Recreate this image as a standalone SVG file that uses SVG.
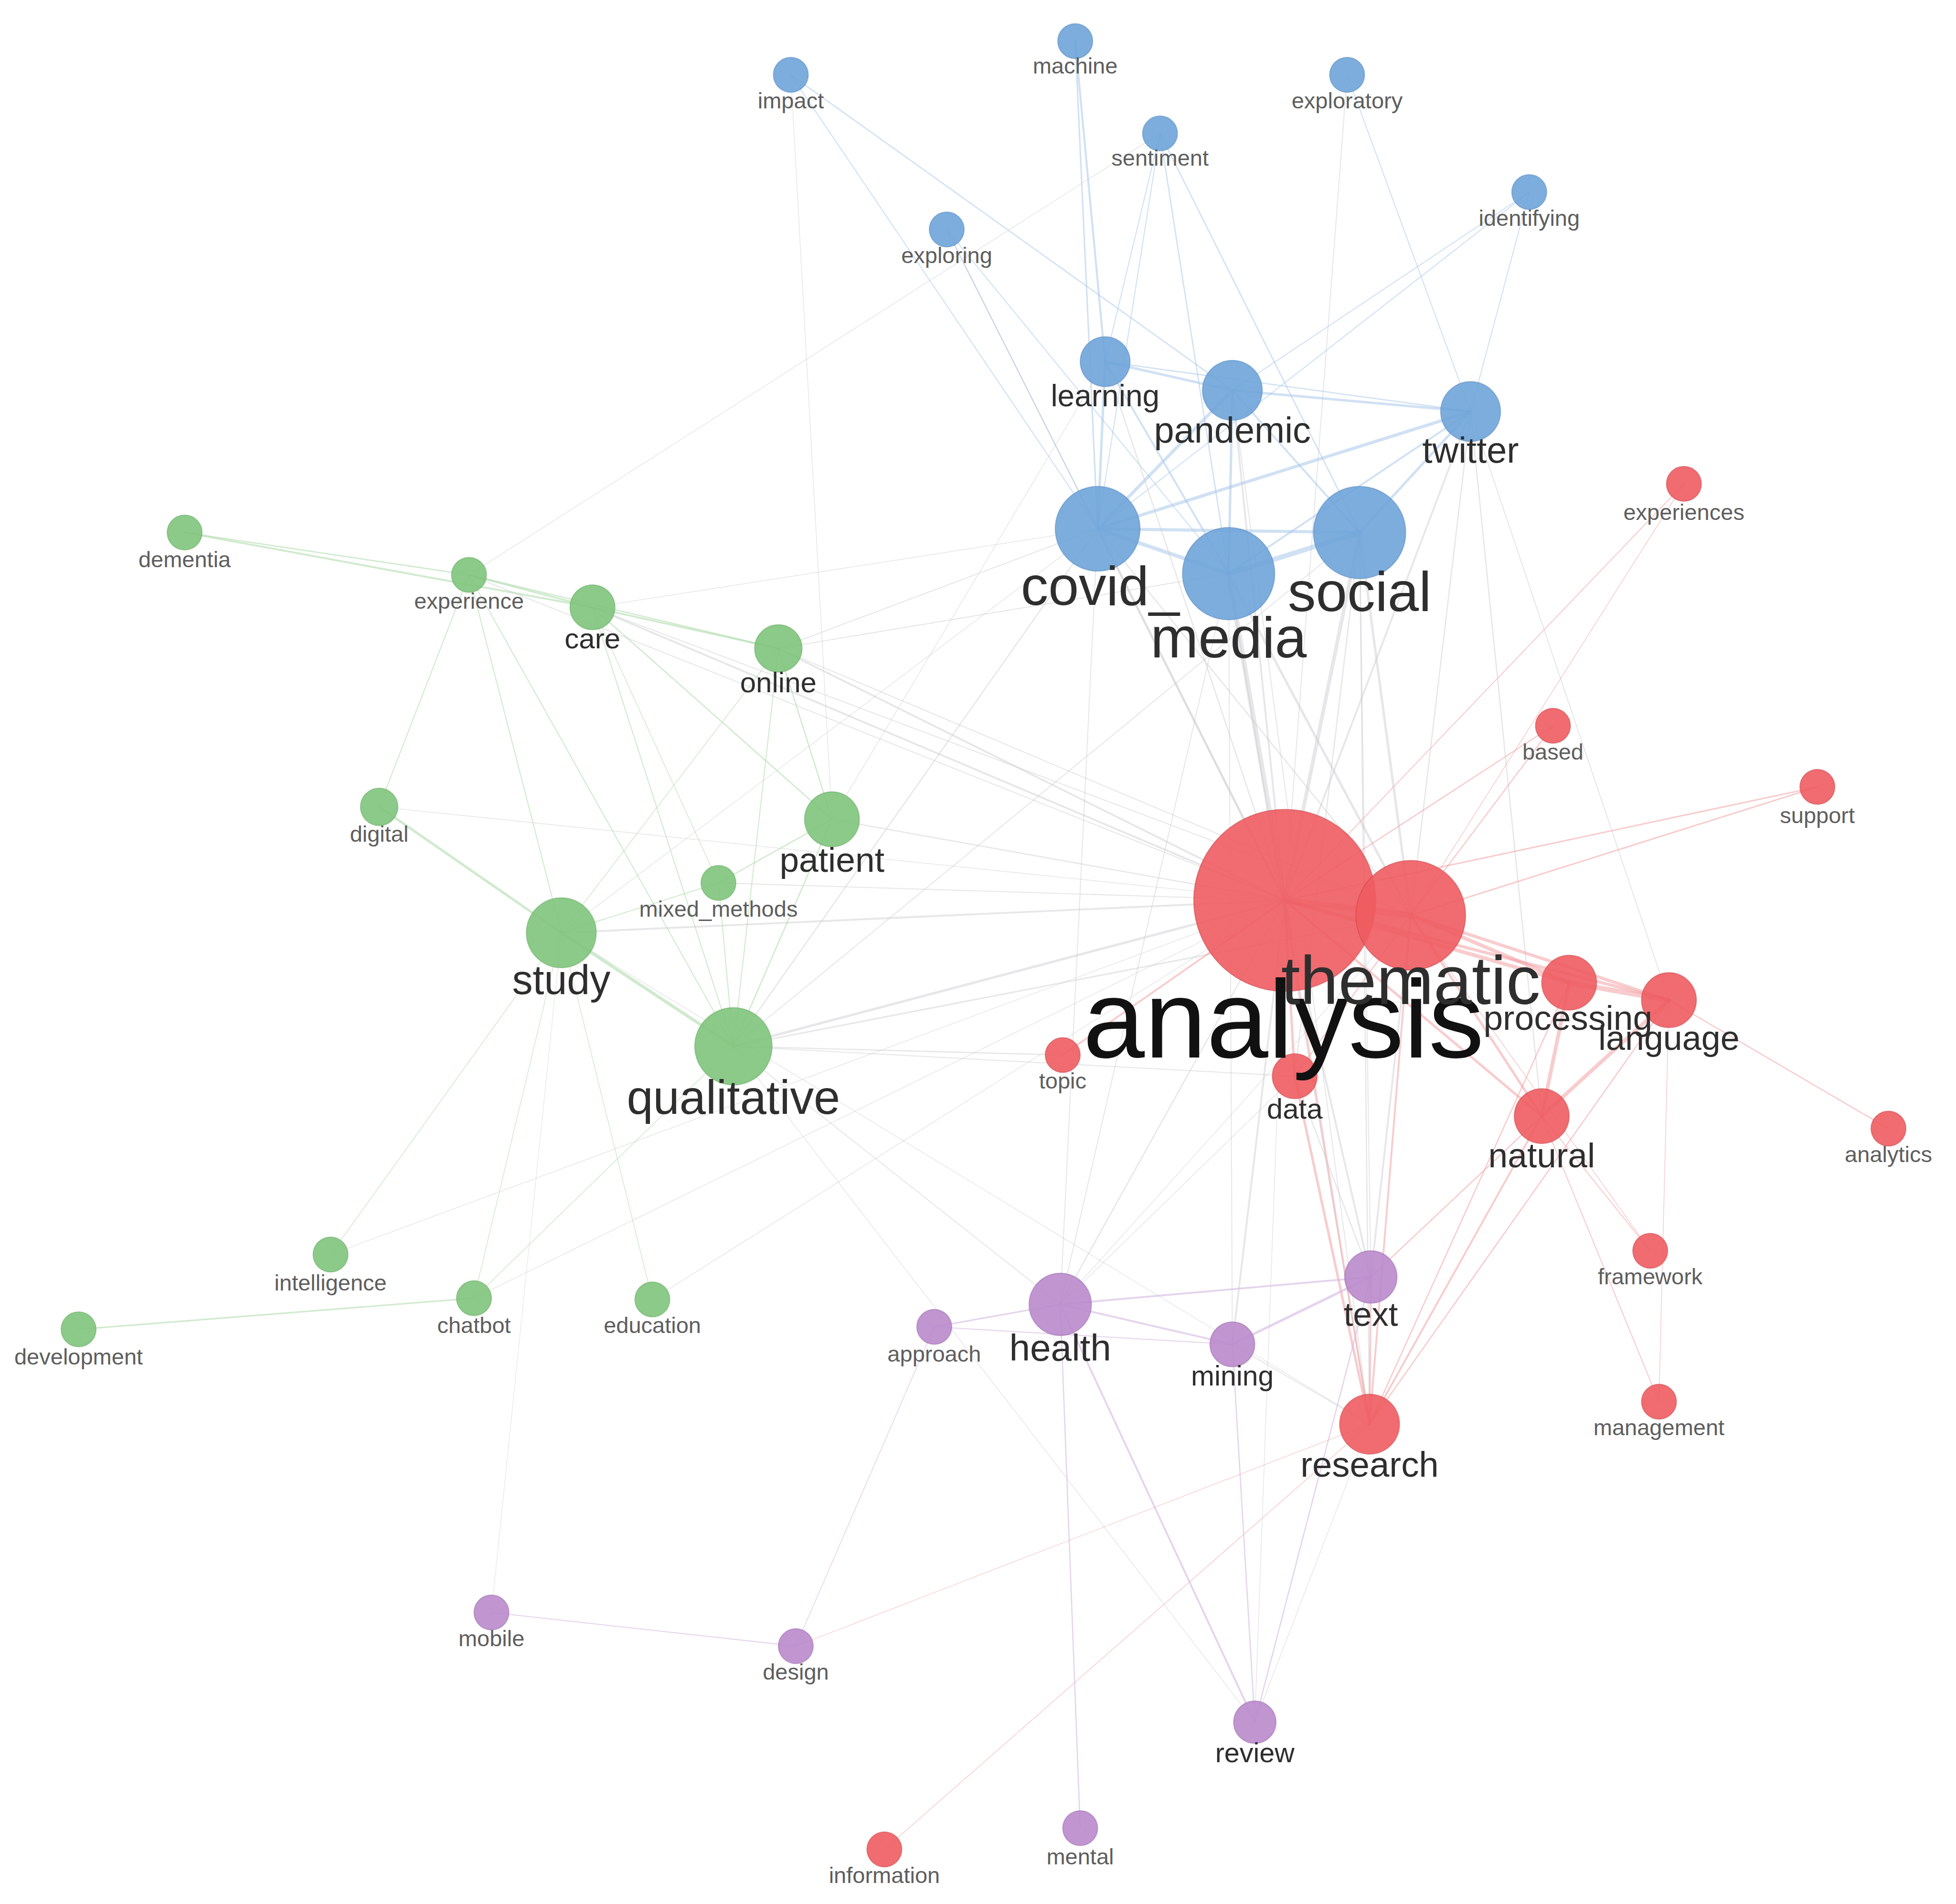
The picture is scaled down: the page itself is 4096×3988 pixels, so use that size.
<svg xmlns="http://www.w3.org/2000/svg" width="4096" height="3988" viewBox="0 0 4096 3988">
<style>
.e{fill:none;stroke-linecap:round}
.eb{stroke:#aac8ea;stroke-opacity:.55}
.eg{stroke:#a9d8a6;stroke-opacity:.55}
.er{stroke:#f29a9d;stroke-opacity:.5}
.ep{stroke:#d4b7e1;stroke-opacity:.6}
.ex{stroke:#c9c9cf;stroke-opacity:.45}
circle{fill-opacity:.9;stroke-width:.8;stroke-opacity:.5}
.b{fill:#6ea4d9;stroke:#4f86bd}
.g{fill:#80c47c;stroke:#5ea75a}
.r{fill:#ee5c61;stroke:#c94045}
.p{fill:#b98acb;stroke:#9a68ad}
text{font-family:"Liberation Sans",Arial,sans-serif;text-anchor:middle}
.s{font-size:18px;fill:#5e5e5e}
.m{fill:#2e2e2e}
</style>
<rect width="4096" height="3988" fill="#ffffff"/>
<g transform="scale(2.612)">
<g id="connectors" class="e">
<!-- blue -->
<line class="eb" x1="862" y1="33" x2="886" y2="290" stroke-width="1.6"/>
<line class="eb" x1="862" y1="33" x2="880" y2="424" stroke-width="1.2"/>
<line class="eb" x1="634" y1="60" x2="988" y2="313" stroke-width="1"/>
<line class="eb" x1="634" y1="60" x2="880" y2="424" stroke-width="0.8"/>
<line class="ex" x1="634" y1="60" x2="667" y2="657" stroke-width="0.6"/>
<line class="eb" x1="759" y1="184" x2="880" y2="424" stroke-width="1"/>
<line class="eb" x1="759" y1="184" x2="985" y2="460" stroke-width="0.8"/>
<line class="ex" x1="759" y1="184" x2="1030" y2="722" stroke-width="0.8"/>
<line class="eb" x1="930" y1="107" x2="880" y2="424" stroke-width="0.8"/>
<line class="eb" x1="930" y1="107" x2="985" y2="460" stroke-width="1"/>
<line class="eb" x1="930" y1="107" x2="1090" y2="427" stroke-width="1"/>
<line class="eb" x1="930" y1="107" x2="886" y2="290" stroke-width="0.8"/>
<line class="ex" x1="930" y1="107" x2="376" y2="461" stroke-width="0.6"/>
<line class="ex" x1="1080" y1="60" x2="1030" y2="722" stroke-width="0.8"/>
<line class="eb" x1="1080" y1="60" x2="1179" y2="330" stroke-width="0.8"/>
<line class="eb" x1="1226" y1="154" x2="988" y2="313" stroke-width="0.8"/>
<line class="eb" x1="1226" y1="154" x2="880" y2="424" stroke-width="0.8"/>
<line class="eb" x1="1226" y1="154" x2="1179" y2="330" stroke-width="0.8"/>
<line class="eb" x1="886" y1="290" x2="988" y2="313" stroke-width="2"/>
<line class="eb" x1="886" y1="290" x2="880" y2="424" stroke-width="2"/>
<line class="eb" x1="886" y1="290" x2="985" y2="460" stroke-width="1.5"/>
<line class="eb" x1="886" y1="290" x2="1179" y2="330" stroke-width="1"/>
<line class="eb" x1="988" y1="313" x2="1179" y2="330" stroke-width="2"/>
<line class="eb" x1="988" y1="313" x2="880" y2="424" stroke-width="2.5"/>
<line class="eb" x1="988" y1="313" x2="985" y2="460" stroke-width="2"/>
<line class="eb" x1="988" y1="313" x2="1090" y2="427" stroke-width="1.5"/>
<line class="eb" x1="1179" y1="330" x2="880" y2="424" stroke-width="2.5"/>
<line class="eb" x1="1179" y1="330" x2="1090" y2="427" stroke-width="2"/>
<line class="eb" x1="1179" y1="330" x2="985" y2="460" stroke-width="1.5"/>
<line class="eb" x1="880" y1="424" x2="985" y2="460" stroke-width="3"/>
<line class="eb" x1="880" y1="424" x2="1090" y2="427" stroke-width="2.5"/>
<line class="eb" x1="985" y1="460" x2="1090" y2="427" stroke-width="4"/>
<!-- blue-red cross -->
<line class="ex" x1="880" y1="424" x2="1030" y2="722" stroke-width="2"/>
<line class="ex" x1="985" y1="460" x2="1030" y2="722" stroke-width="4"/>
<line class="ex" x1="1090" y1="427" x2="1030" y2="722" stroke-width="3"/>
<line class="ex" x1="1179" y1="330" x2="1030" y2="722" stroke-width="1.5"/>
<line class="ex" x1="988" y1="313" x2="1030" y2="722" stroke-width="1.5"/>
<line class="ex" x1="886" y1="290" x2="1030" y2="722" stroke-width="1"/>
<line class="ex" x1="1090" y1="427" x2="1131" y2="734" stroke-width="2"/>
<line class="ex" x1="985" y1="460" x2="1131" y2="734" stroke-width="2"/>
<line class="ex" x1="1179" y1="330" x2="1131" y2="734" stroke-width="1"/>
<line class="ex" x1="880" y1="424" x2="1131" y2="734" stroke-width="1"/>
<line class="ex" x1="1090" y1="427" x2="1098" y2="1142" stroke-width="1"/>
<line class="ex" x1="985" y1="460" x2="1098" y2="1142" stroke-width="1"/>
<line class="ex" x1="1179" y1="330" x2="1236" y2="895" stroke-width="1"/>
<line class="ex" x1="880" y1="424" x2="588" y2="839" stroke-width="1"/>
<line class="ex" x1="1090" y1="427" x2="588" y2="839" stroke-width="0.8"/>
<line class="ex" x1="985" y1="460" x2="850" y2="1046" stroke-width="0.8"/>
<line class="ex" x1="880" y1="424" x2="850" y2="1046" stroke-width="0.8"/>
<line class="ex" x1="1090" y1="427" x2="1038" y2="863" stroke-width="1"/>
<line class="ex" x1="988" y1="313" x2="1098" y2="1142" stroke-width="0.8"/>
<line class="ex" x1="1179" y1="330" x2="1338" y2="802" stroke-width="0.8"/>
<line class="ex" x1="880" y1="424" x2="624" y2="520" stroke-width="0.8"/>
<line class="ex" x1="880" y1="424" x2="475" y2="487" stroke-width="0.6"/>
<line class="ex" x1="985" y1="460" x2="624" y2="520" stroke-width="0.8"/>
<line class="ex" x1="880" y1="424" x2="450" y2="748" stroke-width="0.6"/>
<line class="ex" x1="886" y1="290" x2="667" y2="657" stroke-width="0.6"/>
<line class="ex" x1="985" y1="460" x2="988" y2="1078" stroke-width="0.8"/>
<line class="ex" x1="1090" y1="427" x2="1099" y2="1024" stroke-width="0.8"/>
<!-- green -->
<line class="eg" x1="148" y1="427" x2="475" y2="487" stroke-width="1.5"/>
<line class="eg" x1="148" y1="427" x2="376" y2="461" stroke-width="1"/>
<line class="eg" x1="376" y1="461" x2="475" y2="487" stroke-width="1.5"/>
<line class="eg" x1="475" y1="487" x2="624" y2="520" stroke-width="1.5"/>
<line class="eg" x1="376" y1="461" x2="624" y2="520" stroke-width="1"/>
<line class="eg" x1="304" y1="647" x2="450" y2="748" stroke-width="2"/>
<line class="eg" x1="450" y1="748" x2="588" y2="839" stroke-width="2.5"/>
<line class="eg" x1="376" y1="461" x2="450" y2="748" stroke-width="0.8"/>
<line class="eg" x1="376" y1="461" x2="588" y2="839" stroke-width="0.8"/>
<line class="eg" x1="376" y1="461" x2="304" y2="647" stroke-width="0.8"/>
<line class="eg" x1="475" y1="487" x2="667" y2="657" stroke-width="1"/>
<line class="eg" x1="624" y1="520" x2="667" y2="657" stroke-width="1"/>
<line class="eg" x1="624" y1="520" x2="588" y2="839" stroke-width="0.8"/>
<line class="eg" x1="475" y1="487" x2="588" y2="839" stroke-width="0.8"/>
<line class="eg" x1="667" y1="657" x2="576" y2="708" stroke-width="1"/>
<line class="eg" x1="576" y1="708" x2="588" y2="839" stroke-width="0.8"/>
<line class="eg" x1="450" y1="748" x2="576" y2="708" stroke-width="0.8"/>
<line class="eg" x1="475" y1="487" x2="576" y2="708" stroke-width="0.6"/>
<line class="eg" x1="667" y1="657" x2="588" y2="839" stroke-width="1"/>
<line class="eg" x1="624" y1="520" x2="450" y2="748" stroke-width="0.6"/>
<line class="eg" x1="380" y1="1041" x2="63" y2="1066" stroke-width="1.2"/>
<line class="eg" x1="380" y1="1041" x2="450" y2="748" stroke-width="0.6"/>
<line class="eg" x1="380" y1="1041" x2="588" y2="839" stroke-width="0.6"/>
<line class="eg" x1="523" y1="1042" x2="450" y2="748" stroke-width="0.6"/>
<line class="eg" x1="265" y1="1006" x2="450" y2="748" stroke-width="0.6"/>
<line class="ex" x1="394" y1="1293" x2="450" y2="748" stroke-width="0.5"/>
<!-- green-red cross -->
<line class="ex" x1="475" y1="487" x2="1030" y2="722" stroke-width="1.5"/>
<line class="ex" x1="624" y1="520" x2="1030" y2="722" stroke-width="1.5"/>
<line class="ex" x1="667" y1="657" x2="1030" y2="722" stroke-width="1"/>
<line class="ex" x1="588" y1="839" x2="1030" y2="722" stroke-width="2"/>
<line class="ex" x1="450" y1="748" x2="1030" y2="722" stroke-width="1.5"/>
<line class="ex" x1="588" y1="839" x2="1131" y2="734" stroke-width="1.2"/>
<line class="ex" x1="588" y1="839" x2="852" y2="846" stroke-width="1"/>
<line class="ex" x1="588" y1="839" x2="1038" y2="863" stroke-width="0.8"/>
<line class="ex" x1="304" y1="647" x2="1030" y2="722" stroke-width="0.6"/>
<line class="ex" x1="376" y1="461" x2="1030" y2="722" stroke-width="0.8"/>
<line class="ex" x1="265" y1="1006" x2="1030" y2="722" stroke-width="0.6"/>
<line class="ex" x1="380" y1="1041" x2="1030" y2="722" stroke-width="0.6"/>
<line class="ex" x1="523" y1="1042" x2="1030" y2="722" stroke-width="0.6"/>
<line class="ex" x1="576" y1="708" x2="1030" y2="722" stroke-width="0.8"/>
<line class="ex" x1="588" y1="839" x2="850" y2="1046" stroke-width="0.8"/>
<line class="ex" x1="588" y1="839" x2="1006" y2="1381" stroke-width="0.6"/>
<line class="ex" x1="450" y1="748" x2="1098" y2="1142" stroke-width="0.6"/>
<line class="ex" x1="624" y1="520" x2="1131" y2="734" stroke-width="0.8"/>
<line class="ex" x1="475" y1="487" x2="1131" y2="734" stroke-width="0.8"/>
<!-- red -->
<line class="er" x1="1030" y1="722" x2="1131" y2="734" stroke-width="5"/>
<line class="er" x1="1030" y1="722" x2="1258" y2="788" stroke-width="3"/>
<line class="er" x1="1131" y1="734" x2="1258" y2="788" stroke-width="3"/>
<line class="er" x1="1030" y1="722" x2="1338" y2="802" stroke-width="2.5"/>
<line class="er" x1="1131" y1="734" x2="1338" y2="802" stroke-width="2.5"/>
<line class="er" x1="1258" y1="788" x2="1338" y2="802" stroke-width="4"/>
<line class="er" x1="1338" y1="802" x2="1236" y2="895" stroke-width="3"/>
<line class="er" x1="1258" y1="788" x2="1236" y2="895" stroke-width="3"/>
<line class="er" x1="1131" y1="734" x2="1236" y2="895" stroke-width="2"/>
<line class="er" x1="1030" y1="722" x2="1236" y2="895" stroke-width="2"/>
<line class="er" x1="1236" y1="895" x2="1098" y2="1142" stroke-width="1.5"/>
<line class="er" x1="1338" y1="802" x2="1098" y2="1142" stroke-width="1"/>
<line class="er" x1="1038" y1="863" x2="1098" y2="1142" stroke-width="2"/>
<line class="er" x1="1131" y1="734" x2="1098" y2="1142" stroke-width="1.5"/>
<line class="er" x1="1030" y1="722" x2="1098" y2="1142" stroke-width="1.5"/>
<line class="er" x1="1258" y1="788" x2="1098" y2="1142" stroke-width="1"/>
<line class="er" x1="1245" y1="582" x2="1030" y2="722" stroke-width="1"/>
<line class="er" x1="1245" y1="582" x2="1131" y2="734" stroke-width="1"/>
<line class="er" x1="1457" y1="631" x2="1030" y2="722" stroke-width="1.2"/>
<line class="er" x1="1457" y1="631" x2="1131" y2="734" stroke-width="1.2"/>
<line class="er" x1="1350" y1="388" x2="1030" y2="722" stroke-width="0.8"/>
<line class="er" x1="1350" y1="388" x2="1131" y2="734" stroke-width="0.6"/>
<line class="er" x1="1338" y1="802" x2="1514" y2="905" stroke-width="1"/>
<line class="er" x1="1236" y1="895" x2="1323" y2="1003" stroke-width="0.8"/>
<line class="er" x1="1236" y1="895" x2="1330" y2="1124" stroke-width="0.8"/>
<line class="er" x1="1338" y1="802" x2="1330" y2="1124" stroke-width="0.6"/>
<line class="er" x1="852" y1="846" x2="1030" y2="722" stroke-width="1.5"/>
<line class="er" x1="1038" y1="863" x2="1030" y2="722" stroke-width="2"/>
<line class="er" x1="1038" y1="863" x2="1131" y2="734" stroke-width="1"/>
<line class="er" x1="709" y1="1483" x2="1098" y2="1142" stroke-width="0.6"/>
<line class="er" x1="1323" y1="1003" x2="1131" y2="734" stroke-width="0.6"/>
<!-- purple -->
<line class="ep" x1="850" y1="1046" x2="866" y2="1466" stroke-width="1"/>
<line class="ep" x1="850" y1="1046" x2="1006" y2="1381" stroke-width="1.5"/>
<line class="ep" x1="988" y1="1078" x2="1006" y2="1381" stroke-width="1"/>
<line class="ep" x1="1099" y1="1024" x2="1006" y2="1381" stroke-width="1"/>
<line class="ep" x1="850" y1="1046" x2="1099" y2="1024" stroke-width="1.5"/>
<line class="ep" x1="850" y1="1046" x2="988" y2="1078" stroke-width="1.5"/>
<line class="ep" x1="988" y1="1078" x2="1099" y2="1024" stroke-width="2"/>
<line class="ep" x1="749" y1="1064" x2="850" y2="1046" stroke-width="1.2"/>
<line class="ep" x1="749" y1="1064" x2="638" y2="1320" stroke-width="0.6"/>
<line class="ep" x1="394" y1="1293" x2="638" y2="1320" stroke-width="0.8"/>
<line class="ep" x1="749" y1="1064" x2="988" y2="1078" stroke-width="0.8"/>
<!-- purple-red cross -->
<line class="ex" x1="850" y1="1046" x2="1030" y2="722" stroke-width="1"/>
<line class="ex" x1="1099" y1="1024" x2="1030" y2="722" stroke-width="1.5"/>
<line class="ex" x1="988" y1="1078" x2="1030" y2="722" stroke-width="1.5"/>
<line class="ex" x1="1099" y1="1024" x2="1131" y2="734" stroke-width="1.5"/>
<line class="er" x1="1099" y1="1024" x2="1098" y2="1142" stroke-width="1.5"/>
<line class="ex" x1="988" y1="1078" x2="1098" y2="1142" stroke-width="0.8"/>
<line class="ex" x1="1099" y1="1024" x2="1038" y2="863" stroke-width="1"/>
<line class="ex" x1="1006" y1="1381" x2="1098" y2="1142" stroke-width="0.6"/>
<line class="ex" x1="1006" y1="1381" x2="1030" y2="722" stroke-width="0.6"/>
<line class="er" x1="638" y1="1320" x2="1098" y2="1142" stroke-width="0.5"/>
<line class="ex" x1="850" y1="1046" x2="1038" y2="863" stroke-width="0.6"/>
<line class="er" x1="1099" y1="1024" x2="1236" y2="895" stroke-width="1"/>
<line class="ex" x1="850" y1="1046" x2="1131" y2="734" stroke-width="0.6"/>
</g>
<!-- blue nodes -->
<g id="n-impact"><circle class="b" cx="634" cy="60" r="14"/><text class="s" x="634" y="87">impact</text></g>
<g id="n-machine"><circle class="b" cx="862" cy="33" r="14"/><text class="s" x="862" y="59">machine</text></g>
<g id="n-exploratory"><circle class="b" cx="1080" cy="60" r="14"/><text class="s" x="1080" y="87">exploratory</text></g>
<g id="n-sentiment"><circle class="b" cx="930" cy="107" r="14"/><text class="s" x="930" y="133">sentiment</text></g>
<g id="n-identifying"><circle class="b" cx="1226" cy="154" r="14"/><text class="s" x="1226" y="181">identifying</text></g>
<g id="n-exploring"><circle class="b" cx="759" cy="184" r="14"/><text class="s" x="759" y="211">exploring</text></g>
<g id="n-learning"><circle class="b" cx="886" cy="290" r="20"/><text class="m" x="886" y="326" font-size="24.5">learning</text></g>
<g id="n-pandemic"><circle class="b" cx="988" cy="313" r="24"/><text class="m" x="988" y="355" font-size="29">pandemic</text></g>
<g id="n-twitter"><circle class="b" cx="1179" cy="330" r="24"/><text class="m" x="1179" y="371" font-size="29">twitter</text></g>
<g id="n-covid_"><circle class="b" cx="880" cy="424" r="34"/><text class="m" x="882" y="485" font-size="44">covid_</text></g>
<g id="n-social"><circle class="b" cx="1090" cy="427" r="37"/><text class="m" x="1090" y="490" font-size="45">social</text></g>
<g id="n-media"><circle class="b" cx="985" cy="460" r="37"/><text class="m" x="985" y="527" font-size="46">media</text></g>
<!-- green nodes -->
<g id="n-dementia"><circle class="g" cx="148" cy="427" r="14"/><text class="s" x="148" y="455">dementia</text></g>
<g id="n-experience"><circle class="g" cx="376" cy="461" r="14"/><text class="s" x="376" y="488">experience</text></g>
<g id="n-care"><circle class="g" cx="475" cy="487" r="18"/><text class="m" x="475" y="520" font-size="23">care</text></g>
<g id="n-online"><circle class="g" cx="624" cy="520" r="19"/><text class="m" x="624" y="555" font-size="23">online</text></g>
<g id="n-digital"><circle class="g" cx="304" cy="647" r="15"/><text class="s" x="304" y="675">digital</text></g>
<g id="n-patient"><circle class="g" cx="667" cy="657" r="22"/><text class="m" x="667" y="699" font-size="28">patient</text></g>
<g id="n-mixed_methods"><circle class="g" cx="576" cy="708" r="14"/><text class="s" x="576" y="735">mixed_methods</text></g>
<g id="n-study"><circle class="g" cx="450" cy="748" r="28"/><text class="m" x="450" y="797" font-size="33">study</text></g>
<g id="n-qualitative"><circle class="g" cx="588" cy="839" r="31"/><text class="m" x="588" y="893" font-size="38">qualitative</text></g>
<g id="n-intelligence"><circle class="g" cx="265" cy="1006" r="14"/><text class="s" x="265" y="1035">intelligence</text></g>
<g id="n-chatbot"><circle class="g" cx="380" cy="1041" r="14"/><text class="s" x="380" y="1069">chatbot</text></g>
<g id="n-education"><circle class="g" cx="523" cy="1042" r="14"/><text class="s" x="523" y="1069">education</text></g>
<g id="n-development"><circle class="g" cx="63" cy="1066" r="14"/><text class="s" x="63" y="1094">development</text></g>
<!-- purple nodes -->
<g id="n-text"><circle class="p" cx="1099" cy="1024" r="21"/><text class="m" x="1099" y="1063" font-size="27">text</text></g>
<g id="n-health"><circle class="p" cx="850" cy="1046" r="25"/><text class="m" x="850" y="1091" font-size="30">health</text></g>
<g id="n-approach"><circle class="p" cx="749" cy="1064" r="14"/><text class="s" x="749" y="1092">approach</text></g>
<g id="n-mining"><circle class="p" cx="988" cy="1078" r="18"/><text class="m" x="988" y="1111" font-size="22.5">mining</text></g>
<g id="n-mobile"><circle class="p" cx="394" cy="1293" r="14"/><text class="s" x="394" y="1320">mobile</text></g>
<g id="n-design"><circle class="p" cx="638" cy="1320" r="14"/><text class="s" x="638" y="1347">design</text></g>
<g id="n-review"><circle class="p" cx="1006" cy="1381" r="17"/><text class="m" x="1006" y="1413" font-size="22">review</text></g>
<g id="n-mental"><circle class="p" cx="866" cy="1466" r="14"/><text class="s" x="866" y="1495">mental</text></g>
<!-- red nodes -->
<g id="n-experiences"><circle class="r" cx="1350" cy="388" r="14"/><text class="s" x="1350" y="417">experiences</text></g>
<g id="n-based"><circle class="r" cx="1245" cy="582" r="14"/><text class="s" x="1245" y="609">based</text></g>
<g id="n-support"><circle class="r" cx="1457" cy="631" r="14"/><text class="s" x="1457" y="660">support</text></g>
<g id="n-topic"><circle class="r" cx="852" cy="846" r="14"/><text class="s" x="852" y="873">topic</text></g>
<g id="n-analytics"><circle class="r" cx="1514" cy="905" r="14"/><text class="s" x="1514" y="932">analytics</text></g>
<g id="n-framework"><circle class="r" cx="1323" cy="1003" r="14"/><text class="s" x="1323" y="1030">framework</text></g>
<g id="n-management"><circle class="r" cx="1330" cy="1124" r="14"/><text class="s" x="1330" y="1151">management</text></g>
<g id="n-research"><circle class="r" cx="1098" cy="1142" r="24"/><text class="m" x="1098" y="1184" font-size="28.5">research</text></g>
<g id="n-information"><circle class="r" cx="709" cy="1483" r="14"/><text class="s" x="709" y="1510">information</text></g>
<g id="n-natural"><circle class="r" cx="1236" cy="895" r="22"/><text class="m" x="1236" y="936" font-size="28">natural</text></g>
<g id="n-data"><circle class="r" cx="1038" cy="863" r="18"/><text class="m" x="1038" y="897" font-size="23">data</text></g>
<g id="n-language"><circle class="r" cx="1338" cy="802" r="22"/><text class="m" x="1338" y="842" font-size="27.5">language</text></g>
<g id="n-analysis"><circle class="r" cx="1030" cy="722" r="73"/><text x="1029" y="848" font-size="89" fill="#111">analysis</text></g>
<g id="n-thematic"><circle class="r" cx="1131" cy="734" r="44"/><text class="m" x="1131" y="805" font-size="55" fill="#1e1e1e">thematic</text></g>
<g id="n-processing"><circle class="r" cx="1258" cy="788" r="22"/><text class="m" x="1257" y="826" font-size="28">processing</text></g>
</g>
</svg>
